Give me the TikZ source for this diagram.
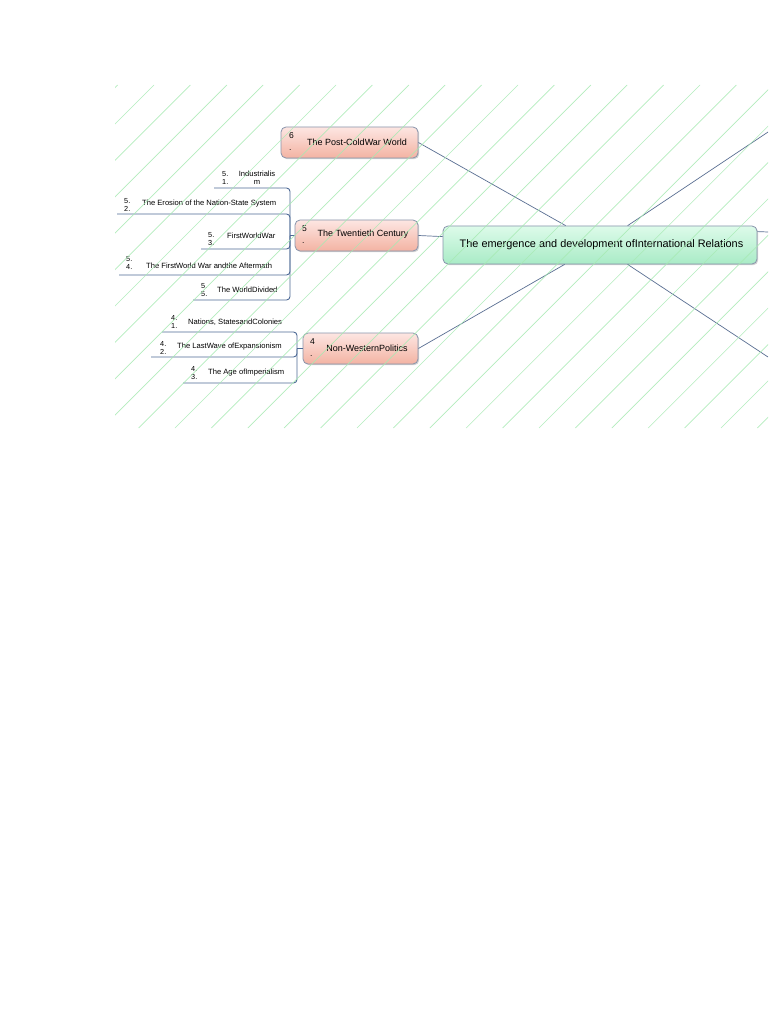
\documentclass[tikz,border=0pt]{standalone}
\usepackage{fontspec}
\setmainfont{Liberation Sans}
\usetikzlibrary{shadows,calc}
\definecolor{hatchgreen}{HTML}{A6EAB2}
\definecolor{linkblue}{HTML}{5A6F92}
\definecolor{branchblue}{HTML}{4E6A96}
\definecolor{boxborder}{HTML}{8894AC}
\definecolor{salmontop}{HTML}{FDE6E2}
\definecolor{salmonbot}{HTML}{F3B3A3}
\definecolor{minttop}{HTML}{DDFBEA}
\definecolor{mintbot}{HTML}{A9EBC6}
\tikzset{
  topicbox/.style={draw=boxborder, line width=0.8pt, rounded corners=5pt,
    top color=salmontop, bottom color=salmonbot, inner sep=0pt,
    drop shadow={opacity=0.35, shadow xshift=1.2pt, shadow yshift=-1.2pt}},
  centralbox/.style={draw=boxborder, line width=0.8pt, rounded corners=5pt,
    top color=minttop, bottom color=mintbot, inner sep=0pt,
    drop shadow={opacity=0.35, shadow xshift=1.2pt, shadow yshift=-1.2pt}},
  topictext/.style={inner sep=0pt, font=\fontsize{9}{10}\selectfont, text=black},
  numtext/.style={inner sep=0pt, align=left, anchor=west, font=\fontsize{7.3}{7.5}\selectfont, text=black},
  leaftext/.style={inner sep=0pt, anchor=west, font=\fontsize{7.6}{8}\selectfont, text=black},
  link/.style={draw=linkblue, line width=0.7pt},
  branch/.style={draw=branchblue, line width=0.9pt, rounded corners=3.5pt},
  hatchline/.style={draw=hatchgreen, line width=0.65pt, opacity=0.85}
}
\begin{document}
\begin{tikzpicture}[x=1pt,y=-1pt]
\useasboundingbox (0,0) rectangle (768,1024);
\fill[white] (0,0) rectangle (768,1024);

% central node
\node[centralbox, minimum width=314pt, minimum height=38pt] (c) at (600,245) {};
\node[inner sep=0pt, font=\fontsize{10.9}{12}\selectfont] (ct) at (601.5,245) {The emergence and development ofInternational Relations};

% topic nodes
\node[topicbox, minimum width=137pt, minimum height=31pt] (pcw) at (349.5,142.5) {};
\node[numtext, font=\fontsize{8.5}{12}\selectfont] (pcwn) at (289,142) {6\\.};
\node[topictext] (pcwt) at (357,142) {The Post-ColdWar World};

\node[topicbox, minimum width=123pt, minimum height=31pt] (tw) at (356.5,235.5) {};
\node[numtext, font=\fontsize{8.5}{12}\selectfont] (twn) at (302,235) {5\\.};
\node[topictext] (twt) at (363,234) {The Twentieth Century};

\node[topicbox, minimum width=115pt, minimum height=31pt] (nw) at (360.5,348.5) {};
\node[numtext, font=\fontsize{8.5}{12}\selectfont] (nwn) at (310,348) {4\\.};
\node[topictext] (nwt) at (367,348) {Non-WesternPolitics};

% links between main nodes
\coordinate (offup) at (768,132);
\coordinate (offright) at (768,232);
\coordinate (offdown) at (768,357);
\draw[link] (pcw.east) -- ([xshift=123pt]c.north west);
\draw[link] ([xshift=185pt]c.north west) -- (offup);
\draw[link] ([yshift=-6pt]c.north east) -- (offright);
\draw[link] (tw.east) -- ([yshift=-11pt]c.north west);
\draw[link] (nw.east) -- ([xshift=122pt]c.south west);
\draw[link] ([xshift=185pt]c.south west) -- (offdown);

% Twentieth Century branches
\coordinate (twb) at (290,235.5);
\draw[branch] (tw.west) -- (twb);
\coordinate (u51) at (214,188);
\coordinate (u52) at (117,214);
\coordinate (u53) at (201,249);
\coordinate (u54) at (119,275);
\coordinate (u55) at (193,300);
\draw[branch] (twb) |- (u51);
\draw[branch] (twb) |- (u52);
\draw[branch] (twb) |- (u53);
\draw[branch] (twb) |- (u54);
\draw[branch] (twb) |- (u55);

\node[numtext] (n51) at (222,178) {5.\\1.};
\node[inner sep=0pt, align=center, font=\fontsize{7.6}{7.8}\selectfont] (t51) at (257,178) {Industrialis\\m};
\node[numtext] (n52) at (124,205) {5.\\2.};
\node[leaftext] (t52) at (142,204) {The Erosion of the Nation-State System};
\node[numtext] (n53) at (208,239) {5.\\3.};
\node[leaftext] (t53) at (227,236) {FirstWorldWar};
\node[numtext] (n54) at (126,263) {5.\\4.};
\node[leaftext] (t54) at (146,266) {The FirstWorld War andthe Aftermath};
\node[numtext] (n55) at (201,290) {5.\\5.};
\node[leaftext] (t55) at (217,290) {The WorldDivided};

% Non-Western branches
\coordinate (nwb) at (297,348.5);
\draw[branch] (nw.west) -- (nwb);
\coordinate (u41) at (162,332);
\coordinate (u42) at (151,357);
\coordinate (u43) at (183,383);
\draw[branch] (nwb) |- (u41);
\draw[branch] (nwb) |- (u42);
\draw[branch] (nwb) |- (u43);

\node[numtext] (n41) at (171,322) {4.\\1.};
\node[leaftext] (t41) at (188,322) {Nations, StatesandColonies};
\node[numtext] (n42) at (160,348) {4.\\2.};
\node[leaftext] (t42) at (177,347) {The LastWave ofExpansionism};
\node[numtext] (n43) at (191,373) {4.\\3.};
\node[leaftext] (t43) at (208,373) {The Age ofImperialism};

% hatching over the diagram area
\begin{scope}
\clip (115,85) rectangle (768,428);
\foreach \k in {-2,...,28} {
  \pgfmathsetmacro{\cc}{239+36.4*\k}
  \draw[hatchline] ({\cc-85},85) -- ({\cc-428},428);
}
\end{scope}
\end{tikzpicture}
\end{document}
